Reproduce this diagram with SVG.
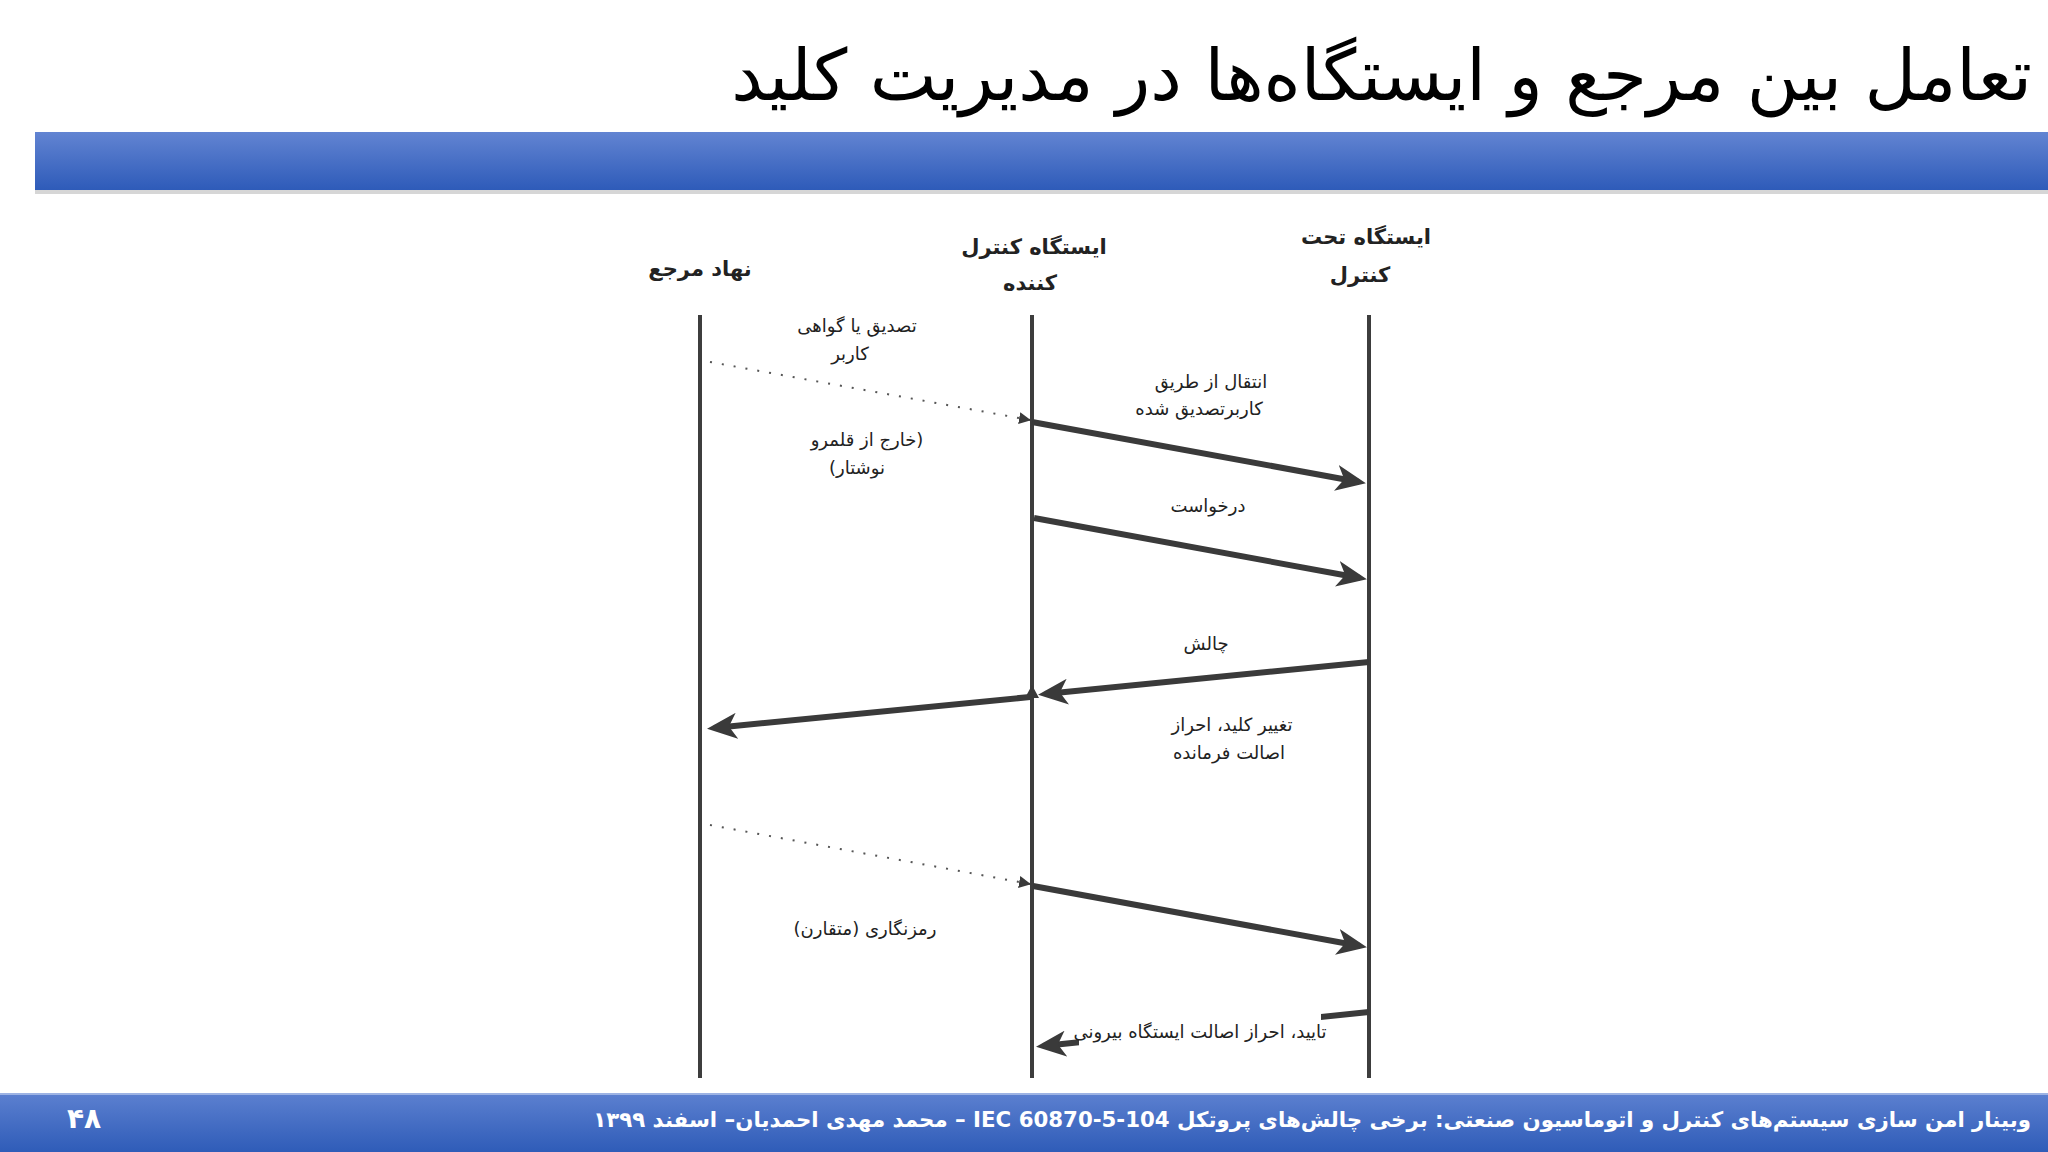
<svg xmlns="http://www.w3.org/2000/svg" width="2048" height="1152" viewBox="0 0 2048 1152">
<defs>
<linearGradient id="barGrad" x1="0" y1="0" x2="0" y2="1">
<stop offset="0" stop-color="#6284d2"/>
<stop offset="1" stop-color="#2e5bb9"/>
</linearGradient>
<linearGradient id="footGrad" x1="0" y1="0" x2="0" y2="1">
<stop offset="0" stop-color="#5c80d0"/>
<stop offset="1" stop-color="#2f5cb8"/>
</linearGradient>
<marker id="bigArrow" viewBox="0 0 30 26" refX="23" refY="13" markerWidth="30" markerHeight="26" markerUnits="userSpaceOnUse" orient="auto">
<path d="M0,0 L30,13 L0,26 L8,13 Z" fill="#3a3a3a"/>
</marker>
<marker id="smallArrow" viewBox="0 0 12 12" refX="11" refY="6" markerWidth="12" markerHeight="12" markerUnits="userSpaceOnUse" orient="auto">
<path d="M0,0 L12,6 L0,12 Z" fill="#3a3a3a"/>
</marker>
</defs>
<style>
.title{font-family:'DejaVu Sans',sans-serif;font-size:71px;fill:#000;}
.head{font-family:'DejaVu Sans',sans-serif;font-size:21px;font-weight:bold;fill:#222;}
.lbl{font-family:'DejaVu Sans',sans-serif;font-size:18px;fill:#222;}
.foot{font-family:'DejaVu Sans',sans-serif;font-size:21.3px;font-weight:bold;fill:#fff;}
.life{stroke:#3d3d3d;stroke-width:4;fill:none;}
.msg{stroke:#3a3a3a;stroke-width:6;fill:none;marker-end:url(#bigArrow);}
.dot{stroke:#555;stroke-width:2;fill:none;stroke-dasharray:2 10;marker-end:url(#smallArrow);}
</style>
<rect width="2048" height="1152" fill="#fff"/>
<g id="title">
<text class="title" x="2032" y="100" direction="rtl" text-anchor="start">تعامل بین مرجع و ایستگاه‌ها در مدیریت کلید</text>
</g>
<g id="header-bar">
<rect x="35" y="134" width="2013" height="60" fill="#8a8a8a" opacity="0.35"/>
<rect x="35" y="132" width="2013" height="58" fill="url(#barGrad)"/>
</g>
<g id="node-authority">
<text class="head" x="700" y="276" text-anchor="middle">نهاد مرجع</text>
<line class="life" x1="700" y1="315" x2="700" y2="1078"/>
</g>
<g id="node-controlling">
<text class="head" x="1034" y="254" text-anchor="middle">ایستگاه کنترل</text>
<text class="head" x="1030" y="290" text-anchor="middle">کننده</text>
<line class="life" x1="1032" y1="315" x2="1032" y2="1078"/>
</g>
<g id="node-controlled">
<text class="head" x="1366" y="244" text-anchor="middle">ایستگاه تحت</text>
<text class="head" x="1360" y="282" text-anchor="middle">کنترل</text>
<line class="life" x1="1369" y1="315" x2="1369" y2="1078"/>
</g>
<g id="connectors">
<line class="dot" x1="710" y1="362" x2="1030" y2="420"/>
<line class="msg" x1="1032" y1="422" x2="1359" y2="482"/>
<line class="msg" x1="1034" y1="518" x2="1360" y2="578"/>
<line class="msg" x1="1369" y1="662" x2="1045" y2="694"/>
<polygon points="1025,698 1032,685 1039,698" fill="#3a3a3a"/>
<line class="msg" x1="1030" y1="697" x2="714" y2="728"/>
<line class="dot" x1="710" y1="825" x2="1030" y2="884"/>
<line class="msg" x1="1033" y1="886" x2="1360" y2="946"/>
<line class="msg" x1="1369" y1="1012" x2="1043" y2="1046"/>
</g>
<g id="labels">
<text class="lbl" x="857" y="332" text-anchor="middle">تصدیق یا گواهی</text>
<text class="lbl" x="850" y="360" text-anchor="middle">کاربر</text>
<text class="lbl" x="867" y="446" direction="rtl" text-anchor="middle">(خارج از قلمرو</text>
<text class="lbl" x="857" y="474" direction="rtl" text-anchor="middle">نوشتار)</text>
<text class="lbl" x="1211" y="388" text-anchor="middle">انتقال از طریق</text>
<text class="lbl" x="1199" y="415" text-anchor="middle">کاربرتصدیق شده</text>
<text class="lbl" x="1208" y="512" text-anchor="middle">درخواست</text>
<text class="lbl" x="1206" y="650" text-anchor="middle">چالش</text>
<text class="lbl" x="1232" y="731" text-anchor="middle">تغییر کلید، احراز</text>
<text class="lbl" x="1229" y="759" text-anchor="middle">اصالت فرمانده</text>
<text class="lbl" x="865" y="935" direction="rtl" text-anchor="middle">رمزنگاری (متقارن)</text>
<rect x="1079" y="1011" width="242" height="35" fill="#fff"/>
<text class="lbl" x="1200" y="1038" text-anchor="middle">تایید، احراز اصالت ایستگاه بیرونی</text>
</g>
<g id="footer">
<rect x="0" y="1093" width="2048" height="59" fill="url(#footGrad)"/>
<rect x="0" y="1093" width="2048" height="2" fill="#9db3e4"/>
<text class="foot" x="2031" y="1127" direction="rtl" text-anchor="start">وبینار امن سازی سیستم‌های کنترل و اتوماسیون صنعتی: برخی چالش‌های پروتکل  IEC 60870-5-104 – محمد مهدی احمدیان– اسفند  ۱۳۹۹</text>
<text class="foot" x="84" y="1128" text-anchor="middle" style="font-size:28px">۴۸</text>
</g>
</svg>
